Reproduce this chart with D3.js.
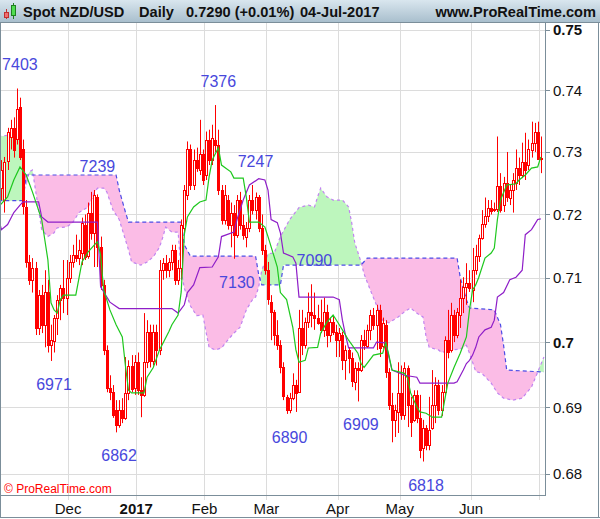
<!DOCTYPE html>
<meta charset="utf-8">
<style>
    body { margin: 0; background: #fff; }
    text { font-family: "Liberation Sans", Arial, sans-serif; }
</style>
<svg id="chart" width="600" height="519"></svg>
<script src="https://d3js.org/d3.v7.min.js"></script>
<script>
    // daily candles, NZD/USD, 1-Nov-2016 .. 4-Jul-2017 (weekdays)
    var open = [
        0.7231,0.7242,0.7223,0.7287,0.7325,0.7339,0.7320,0.7373,0.7304,0.7212,
        0.7125,0.7097,0.7116,0.7022,0.7073,0.7027,0.7078,0.6995,0.7003,0.7038,
        0.7066,0.7084,0.7069,0.7100,0.7125,0.7136,0.7131,0.7140,0.7184,0.7135,
        0.7203,0.7171,0.7228,0.7148,0.7089,0.6988,0.6929,0.6923,0.6896,0.6873,
        0.6896,0.6884,0.6922,0.6964,0.6929,0.6969,0.6926,0.6919,0.6969,0.7016,
        0.6972,0.7016,0.6988,0.7112,0.7123,0.7112,0.7125,0.7144,0.7097,0.7116,
        0.7179,0.7231,0.7304,0.7247,0.7287,0.7271,0.7296,0.7263,0.7320,0.7287,
        0.7320,0.7312,0.7239,0.7192,0.7223,0.7184,0.7203,0.7168,0.7223,0.7184,
        0.7165,0.7179,0.7223,0.7207,0.7228,0.7179,0.7144,0.7112,0.7062,0.7047,
        0.7011,0.6995,0.6961,0.6916,0.6896,0.6914,0.6934,0.6923,0.7022,0.6995,
        0.7031,0.7047,0.7042,0.7038,0.7031,0.7019,0.7047,0.7011,0.7031,0.7016,
        0.7003,0.7011,0.6972,0.6988,0.6975,0.6939,0.6960,0.6957,0.7003,0.6995,
        0.7019,0.7042,0.7027,0.7050,0.6995,0.7027,0.6954,0.6904,0.6881,0.6893,
        0.6922,0.6888,0.6960,0.6904,0.6881,0.6919,0.6884,0.6838,0.6869,0.6843,
        0.6869,0.6904,0.6934,0.6896,0.6923,0.7003,0.6988,0.7042,0.7011,0.7042,
        0.7069,0.7086,0.7092,0.7081,0.7112,0.7134,0.7163,0.7185,0.7198,0.7211,
        0.7207,0.7209,0.7246,0.7215,0.7250,0.7227,0.7239,0.7250,0.7274,0.7263,
        0.7284,0.7279,0.7304,0.7315,0.7333,0.7289];
    var high = [
        0.7250,0.7287,0.7292,0.7339,0.7352,0.7356,0.7403,0.7388,0.7320,0.7223,
        0.7136,0.7131,0.7125,0.7081,0.7089,0.7112,0.7097,0.7027,0.7042,0.7073,
        0.7089,0.7128,0.7128,0.7136,0.7152,0.7168,0.7160,0.7195,0.7200,0.7219,
        0.7236,0.7239,0.7232,0.7165,0.7097,0.6995,0.6949,0.6934,0.6911,0.6911,
        0.6914,0.6977,0.6972,0.6980,0.6980,0.6984,0.6946,0.7045,0.7034,0.7027,
        0.7027,0.7027,0.7128,0.7131,0.7136,0.7131,0.7152,0.7152,0.7128,0.7192,
        0.7247,0.7317,0.7312,0.7304,0.7307,0.7352,0.7304,0.7333,0.7336,0.7344,
        0.7376,0.7336,0.7247,0.7247,0.7231,0.7219,0.7215,0.7231,0.7236,0.7200,
        0.7188,0.7231,0.7247,0.7235,0.7231,0.7200,0.7152,0.7125,0.7073,0.7050,
        0.7034,0.7003,0.6969,0.6919,0.6922,0.6952,0.6942,0.7050,0.7050,0.7038,
        0.7077,0.7090,0.7077,0.7058,0.7066,0.7069,0.7058,0.7038,0.7042,0.7027,
        0.7022,0.7016,0.6995,0.6992,0.6984,0.6969,0.6969,0.7011,0.7019,0.7027,
        0.7050,0.7053,0.7058,0.7058,0.7038,0.7034,0.6960,0.6922,0.6904,0.6969,
        0.6964,0.6969,0.6964,0.6916,0.6926,0.6926,0.6919,0.6881,0.6873,0.6916,
        0.6957,0.6946,0.6942,0.6934,0.7009,0.7050,0.7061,0.7050,0.7053,0.7097,
        0.7101,0.7123,0.7112,0.7147,0.7152,0.7168,0.7207,0.7227,0.7223,0.7223,
        0.7219,0.7325,0.7266,0.7260,0.7300,0.7247,0.7266,0.7304,0.7291,0.7315,
        0.7331,0.7320,0.7349,0.7347,0.7349,0.7325];
    var low = [
        0.7215,0.7223,0.7203,0.7271,0.7304,0.7291,0.7312,0.7287,0.7200,0.7116,
        0.7089,0.7077,0.7011,0.7011,0.7014,0.6992,0.6984,0.6971,0.6984,0.7011,
        0.7034,0.7045,0.7042,0.7092,0.7116,0.7125,0.7120,0.7120,0.7128,0.7130,
        0.7160,0.7117,0.7117,0.7081,0.6980,0.6923,0.6911,0.6884,0.6862,0.6869,
        0.6876,0.6881,0.6911,0.6923,0.6919,0.6919,0.6885,0.6916,0.6960,0.6961,
        0.6964,0.6964,0.6980,0.7097,0.7100,0.7101,0.7112,0.7089,0.7089,0.7097,
        0.7168,0.7223,0.7239,0.7239,0.7268,0.7263,0.7247,0.7255,0.7279,0.7279,
        0.7300,0.7231,0.7184,0.7184,0.7176,0.7148,0.7130,0.7163,0.7176,0.7160,
        0.7148,0.7172,0.7200,0.7192,0.7172,0.7136,0.7105,0.7058,0.7003,0.6995,
        0.6988,0.6952,0.6911,0.6890,0.6891,0.6911,0.6893,0.6922,0.6980,0.6990,
        0.7022,0.7023,0.7019,0.7027,0.7014,0.7008,0.6992,0.7000,0.7011,0.6977,
        0.6977,0.6957,0.6942,0.6952,0.6931,0.6926,0.6909,0.6954,0.6988,0.6991,
        0.7003,0.7019,0.6988,0.6977,0.6990,0.6945,0.6896,0.6847,0.6855,0.6861,
        0.6881,0.6881,0.6870,0.6855,0.6878,0.6876,0.6823,0.6818,0.6835,0.6835,
        0.6866,0.6876,0.6888,0.6887,0.6919,0.6975,0.6984,0.7000,0.7006,0.7022,
        0.7045,0.7058,0.7078,0.7062,0.7105,0.7125,0.7160,0.7179,0.7188,0.7200,
        0.7204,0.7204,0.7203,0.7204,0.7220,0.7215,0.7203,0.7239,0.7247,0.7258,
        0.7255,0.7271,0.7291,0.7300,0.7287,0.7266];
    var close = [
        0.7242,0.7271,0.7284,0.7333,0.7339,0.7304,0.7369,0.7292,0.7212,0.7125,
        0.7097,0.7116,0.7022,0.7073,0.7027,0.7078,0.6995,0.7003,0.7038,0.7066,
        0.7084,0.7069,0.7100,0.7125,0.7136,0.7131,0.7144,0.7187,0.7133,0.7203,
        0.7171,0.7231,0.7148,0.7089,0.6988,0.6929,0.6923,0.6888,0.6873,0.6896,
        0.6884,0.6922,0.6964,0.6929,0.6969,0.6926,0.6919,0.6969,0.7016,0.6972,
        0.7016,0.6988,0.7112,0.7123,0.7112,0.7125,0.7144,0.7097,0.7116,0.7184,
        0.7239,0.7304,0.7247,0.7287,0.7274,0.7296,0.7255,0.7320,0.7287,0.7323,
        0.7312,0.7239,0.7192,0.7231,0.7184,0.7203,0.7168,0.7223,0.7184,0.7168,
        0.7179,0.7223,0.7207,0.7228,0.7179,0.7144,0.7112,0.7066,0.7047,0.7011,
        0.6995,0.6961,0.6916,0.6896,0.6914,0.6934,0.6922,0.7022,0.6995,0.7031,
        0.7047,0.7042,0.7038,0.7031,0.7019,0.7047,0.7011,0.7031,0.7016,0.7003,
        0.7014,0.6972,0.6988,0.6975,0.6939,0.6960,0.6957,0.7003,0.6995,0.7019,
        0.7042,0.7027,0.7050,0.6991,0.7030,0.6954,0.6904,0.6881,0.6896,0.6922,
        0.6888,0.6960,0.6904,0.6878,0.6919,0.6884,0.6835,0.6869,0.6843,0.6866,
        0.6904,0.6934,0.6896,0.6923,0.7003,0.6984,0.7042,0.7011,0.7047,0.7069,
        0.7086,0.7092,0.7084,0.7112,0.7134,0.7163,0.7185,0.7198,0.7211,0.7207,
        0.7209,0.7246,0.7207,0.7250,0.7227,0.7239,0.7255,0.7274,0.7263,0.7284,
        0.7271,0.7304,0.7315,0.7333,0.7289,0.7290];

    // Ichimoku lines: [day index, price]
    var tenkan = [[0,0.7212],[3,0.7228],[5,0.7255],[7,0.7276],[9,0.7263],[11,0.7236],[14,0.7192],[15,0.7160],
        [16,0.7128],[17,0.7061],[18,0.7050],[19,0.7045],[20,0.7066],[21,0.7073],[25,0.7073],[27,0.7125],
        [29,0.7141],[31,0.7152],[32,0.7157],[33,0.7136],[34,0.7081],[36,0.7050],[38,0.7027],[40,0.7008],
        [41,0.6964],[42,0.6926],[43,0.6922],[47,0.6922],[48,0.6946],[50,0.6961],[52,0.6988],[55,0.7016],
        [56,0.7027],[58,0.7042],[59,0.7078],[60,0.7168],[61,0.7196],[63,0.7212],[65,0.7220],[67,0.7223],
        [68,0.7260],[69,0.7287],[71,0.7307],[72,0.7279],[75,0.7268],[76,0.7258],[79,0.7258],[80,0.7228],
        [81,0.7188],[84,0.7188],[86,0.7180],[87,0.7165],[90,0.7117],[91,0.7077],[93,0.7066],[95,0.7023],
        [96,0.6988],[97,0.6969],[99,0.6972],[100,0.6991],[103,0.6992],[104,0.7014],[106,0.7031],[108,0.7042],
        [110,0.7027],[111,0.7019],[113,0.7003],[116,0.6983],[117,0.6967],[118,0.6961],[121,0.6980],[124,0.6983],
        [125,0.6999],[126,0.6980],[127,0.6957],[131,0.6952],[132,0.6945],[133,0.6922],[135,0.6901],[136,0.6893],
        [138,0.6891],[140,0.6885],[143,0.6885],[144,0.6911],[145,0.6937],[147,0.6961],[149,0.6983],[151,0.7008],
        [152,0.7050],[153,0.7081],[154,0.7089],[155,0.7101],[157,0.7131],[159,0.7139],[160,0.7147],[161,0.7192],
        [162,0.7223],[164,0.7247],[167,0.7249],[168,0.7255],[170,0.7263],[172,0.7274],[174,0.7276],[175,0.7292]];
    var kijun = [[0,0.7196],[1,0.7176],[3,0.7184],[5,0.7203],[7,0.7215],[8,0.7220],[13,0.7220],[14,0.7196],
        [16,0.7188],[32,0.7188],[33,0.7086],[36,0.7062],[39,0.7052],[56,0.7052],[58,0.7045],[60,0.7058],
        [61,0.7077],[63,0.7089],[65,0.7116],[69,0.7117],[71,0.7133],[72,0.7165],[76,0.7172],[77,0.7192],
        [79,0.7223],[81,0.7247],[84,0.7257],[86,0.7255],[87,0.7239],[88,0.7192],[90,0.7187],[91,0.7171],
        [92,0.7139],[95,0.7133],[96,0.7123],[97,0.7070],[108,0.7070],[110,0.7066],[111,0.7034],[112,0.7011],
        [113,0.6991],[121,0.6991],[122,0.7000],[125,0.6999],[126,0.6977],[127,0.6957],[131,0.6949],[135,0.6946],
        [136,0.6937],[147,0.6937],[148,0.6939],[150,0.6957],[151,0.6967],[152,0.6972],[153,0.6980],[154,0.6992],
        [155,0.7008],[157,0.7019],[159,0.7023],[160,0.7034],[161,0.7070],[163,0.7077],[165,0.7097],[167,0.7101],
        [169,0.7112],[170,0.7168],[172,0.7176],[173,0.7184],[174,0.7192],[175,0.7193]];
    var spanA = [[0,0.7325],[5,0.7328],[7,0.7320],[8,0.7287],[9,0.7247],[10,0.7268],[11,0.7271],[12,0.7239],
        [13,0.7207],[14,0.7176],[16,0.7165],[18,0.7171],[19,0.7179],[22,0.7180],[24,0.7187],[26,0.7203],
        [29,0.7212],[31,0.7235],[32,0.7242],[34,0.7242],[35,0.7236],[37,0.7207],[39,0.7192],[40,0.7176],
        [42,0.7144],[43,0.7125],[46,0.7120],[48,0.7125],[50,0.7133],[52,0.7148],[53,0.7163],[54,0.7180],
        [56,0.7172],[58,0.7172],[59,0.7111],[60,0.7084],[61,0.7070],[62,0.7056],[64,0.7041],[66,0.7042],
        [67,0.7016],[68,0.6992],[70,0.6988],[72,0.6991],[74,0.7003],[76,0.7014],[78,0.7023],[80,0.7050],
        [82,0.7066],[83,0.7070],[84,0.7086],[85,0.7112],[87,0.7138],[89,0.7139],[91,0.7165],[94,0.7192],
        [97,0.7211],[100,0.7215],[102,0.7212],[103,0.7228],[104,0.7242],[106,0.7228],[108,0.7223],[111,0.7223],
        [113,0.7212],[114,0.7187],[115,0.7155],[117,0.7125],[118,0.7106],[120,0.7081],[124,0.7034],[126,0.7030],
        [129,0.7039],[131,0.7047],[133,0.7053],[135,0.7045],[137,0.7039],[138,0.7008],[139,0.6992],[142,0.6988],
        [143,0.6984],[146,0.6988],[149,0.6989],[151,0.6995],[152,0.6983],[154,0.6955],[156,0.6952],[159,0.6937],
        [161,0.6922],[163,0.6914],[166,0.6911],[169,0.6914],[172,0.6931],[174,0.6954],[176,0.6977]];
    var spanB = [[0,0.7222],[8,0.7222],[9,0.7263],[38,0.7263],[39,0.7239],[41,0.7204],[42,0.7188],[59,0.7188],
        [60,0.7152],[62,0.7134],[83,0.7134],[84,0.7105],[85,0.7089],[91,0.7089],[92,0.7120],[117,0.7120],
        [119,0.7131],[148,0.7131],[149,0.7101],[151,0.7066],[152,0.7053],[160,0.7050],[162,0.7027],[163,0.6995],
        [164,0.6957],[176,0.6954]];

    // swing labels: [day index, price, +1 high / -1 low]
    var pivots = [[6,0.7403,1],[31,0.7239,1],[70,0.7376,1],[82,0.7247,1],[101,0.7090,1],
        [17,0.6971,-1],[38,0.6862,-1],[76,0.7130,-1],[93,0.6890,-1],[116,0.6909,-1],[137,0.6818,-1]];

    var yTicks = [0.68, 0.69, 0.70, 0.71, 0.72, 0.73, 0.74, 0.75];
    var boldTicks = [0.70, 0.75];

    var plot = {left: 1, top: 23, right: 545, bottom: 495};
    var svg = d3.select("#chart");

    // weekday dates from 1-Nov-2016
    var dates = [];
    var day = new Date(2016, 10, 1);
    while (dates.length < close.length) {
        if (day.getDay() != 0 && day.getDay() != 6) dates.push(new Date(day));
        day.setDate(day.getDate() + 1);
    }

    var x = d3.scaleLinear().domain([0, close.length - 1]).range([-1.7, 540.8]);
    var y = d3.scaleLog().domain([0.68, 0.75]).range([473.5, 29.5]);

    var defs = svg.append("defs");
    var grad = defs.append("linearGradient").attr("id", "hdr").attr("x1", 0).attr("y1", 0).attr("x2", 0).attr("y2", 1);
    grad.append("stop").attr("offset", "0%").attr("stop-color", "#d9e6ee");
    grad.append("stop").attr("offset", "100%").attr("stop-color", "#a9bfcd");

    defs.append("clipPath").attr("id", "plotClip").append("rect")
        .attr("x", plot.left).attr("y", plot.top)
        .attr("width", plot.right - plot.left).attr("height", plot.bottom - plot.top);

    // cloud clip regions
    defs.append("clipPath").attr("id", "aboveB").append("path")
        .attr("d", d3.area().x(function (d) { return x(d[0]); }).y0(0).y1(function (d) { return y(d[1]); })(spanB));
    defs.append("clipPath").attr("id", "aboveA").append("path")
        .attr("d", d3.area().x(function (d) { return x(d[0]); }).y0(0).y1(function (d) { return y(d[1]); })(spanA));

    // gridlines
    var monthStarts = [];
    for (var i = 1; i < dates.length; i++) {
        if (dates[i].getMonth() != dates[i - 1].getMonth()) monthStarts.push(i);
    }

    var grid = svg.append("g").attr("stroke", "#dcdcdc").attr("stroke-width", 1);
    grid.selectAll(".h").data(yTicks).enter().append("line")
        .attr("x1", plot.left).attr("x2", plot.right)
        .attr("y1", function (d) { return Math.round(y(d)) + 0.5; })
        .attr("y2", function (d) { return Math.round(y(d)) + 0.5; });
    grid.selectAll(".v").data(monthStarts).enter().append("line")
        .attr("x1", function (d) { return Math.round(x(d + 0.5)) + 0.5; })
        .attr("x2", function (d) { return Math.round(x(d + 0.5)) + 0.5; })
        .attr("y1", plot.top).attr("y2", plot.bottom + 5);

    var g = svg.append("g").attr("clip-path", "url(#plotClip)");

    // kumo
    var areaDown = d3.area().x(function (d) { return x(d[0]); }).y0(plot.bottom + 50).y1(function (d) { return y(d[1]); });
    g.append("path").attr("d", areaDown(spanA)).attr("fill", "#bdf6bd").attr("clip-path", "url(#aboveB)");
    g.append("path").attr("d", areaDown(spanB)).attr("fill", "#fbbce6").attr("clip-path", "url(#aboveA)");

    var line = d3.line().x(function (d) { return x(d[0]); }).y(function (d) { return y(d[1]); });
    g.append("path").attr("d", line(spanA)).attr("fill", "none")
        .attr("stroke", "#c184f0").attr("stroke-width", 1.2).attr("stroke-dasharray", "3,3");
    g.append("path").attr("d", line(spanB)).attr("fill", "none")
        .attr("stroke", "#4c4ce6").attr("stroke-width", 1.2).attr("stroke-dasharray", "4,3");

    // candles
    var candles = d3.range(close.length).map(function (i) {
        return {i: i, o: open[i], h: high[i], l: low[i], c: close[i]};
    });
    var cg = g.append("g");
    cg.selectAll("line").data(candles).enter().append("line")
        .attr("x1", function (d) { return Math.round(x(d.i)) + 0.5; })
        .attr("x2", function (d) { return Math.round(x(d.i)) + 0.5; })
        .attr("y1", function (d) { return y(d.h); })
        .attr("y2", function (d) { return y(d.l); })
        .attr("stroke", "#ff0000");
    cg.selectAll("rect").data(candles).enter().append("rect")
        .attr("x", function (d) { return Math.round(x(d.i)) - 0.5; })
        .attr("y", function (d) { return Math.round(y(Math.max(d.o, d.c))) + 0.5; })
        .attr("width", 2)
        .attr("height", function (d) { return Math.max(1, Math.round(Math.abs(y(d.o) - y(d.c)))); })
        .attr("fill", function (d) { return d.c > d.o ? "#ffffff" : "#ff0000"; })
        .attr("stroke", "#ff0000");

    g.append("path").attr("d", line(kijun)).attr("fill", "none").attr("stroke", "#8e1ec8").attr("stroke-width", 1.2);
    g.append("path").attr("d", line(tenkan)).attr("fill", "none").attr("stroke", "#1ec81e").attr("stroke-width", 1.2);

    // swing labels
    svg.append("g").selectAll("text").data(pivots).enter().append("text")
        .attr("x", function (d) { return x(d[0]) + 3; })
        .attr("y", function (d) { return d[2] > 0 ? y(d[1]) - 18 : y(d[1]) + 29; })
        .attr("text-anchor", "middle")
        .attr("font-size", 16)
        .attr("fill", "#4848dc")
        .text(function (d) { return Math.round(d[1] * 10000); });

    // frames
    var frame = svg.append("g").attr("stroke", "#7b8e9a").attr("fill", "none");
    frame.append("line").attr("x1", 0.5).attr("x2", 0.5).attr("y1", 22).attr("y2", 518);
    frame.append("line").attr("x1", plot.right + 0.5).attr("x2", plot.right + 0.5).attr("y1", 22).attr("y2", plot.bottom + 0.5);
    frame.append("line").attr("x1", 0).attr("x2", plot.right + 1).attr("y1", plot.bottom + 0.5).attr("y2", plot.bottom + 0.5);
    frame.append("line").attr("x1", 0).attr("x2", 600).attr("y1", 517.5).attr("y2", 517.5);
    frame.append("line").attr("x1", 598.5).attr("x2", 598.5).attr("y1", 0).attr("y2", 518);

    // y axis
    var yAxis = svg.append("g");
    yAxis.selectAll("line").data(yTicks).enter().append("line")
        .attr("x1", plot.right).attr("x2", plot.right + 5)
        .attr("y1", function (d) { return Math.round(y(d)) + 0.5; })
        .attr("y2", function (d) { return Math.round(y(d)) + 0.5; })
        .attr("stroke", "#7b8e9a");
    yAxis.selectAll("text").data(yTicks).enter().append("text")
        .attr("x", plot.right + 8)
        .attr("y", function (d) { return y(d) + 5.5; })
        .attr("font-size", 15)
        .attr("font-weight", function (d) { return boldTicks.indexOf(d) >= 0 ? "bold" : "normal"; })
        .attr("fill", "#111")
        .text(function (d) { return boldTicks.indexOf(d) >= 0 ? d3.format("")(d) : d3.format(".2f")(d); });

    // x axis
    var monthFmt = d3.timeFormat("%b");
    svg.append("g").selectAll("text")
        .data(monthStarts.filter(function (i) { return x(i + 0.5) < plot.right - 20; }))
        .enter().append("text")
        .attr("x", function (i) { return x(i + 0.5); })
        .attr("y", 514)
        .attr("text-anchor", "middle")
        .attr("font-size", 15)
        .attr("font-weight", function (i) { return dates[i].getMonth() == 0 ? "bold" : "normal"; })
        .attr("fill", "#111")
        .text(function (i) { return dates[i].getMonth() == 0 ? dates[i].getFullYear() : monthFmt(dates[i]); });

    svg.append("text").attr("x", 4).attr("y", 493).attr("font-size", 12).attr("fill", "#ff0000")
        .text("\u00a9 ProRealTime.com");

    // header bar
    svg.append("rect").attr("x", 0).attr("y", 0).attr("width", 600).attr("height", 22).attr("fill", "url(#hdr)");
    svg.append("line").attr("x1", 0).attr("x2", 600).attr("y1", 22.5).attr("y2", 22.5).attr("stroke", "#7b8e9a");
    var icon = svg.append("g");
    icon.append("line").attr("x1", 6.5).attr("x2", 6.5).attr("y1", 9).attr("y2", 19).attr("stroke", "#c03030");
    icon.append("rect").attr("x", 4.5).attr("y", 12.5).attr("width", 4).attr("height", 5).attr("fill", "#f07070").attr("stroke", "#c03030");
    icon.append("line").attr("x1", 13.5).attr("x2", 13.5).attr("y1", 3).attr("y2", 19).attr("stroke", "#208020");
    icon.append("rect").attr("x", 11.5).attr("y", 5.5).attr("width", 4).attr("height", 10).attr("fill", "#50dd50").attr("stroke", "#208020");

    var last = close.length - 1;
    var chg = (close[last] - close[last - 1]) / close[last - 1] * 100;
    var hdr = svg.append("g").attr("font-size", 14.6).attr("font-weight", "bold").attr("fill", "#111");
    hdr.append("text").attr("x", 23).attr("y", 17).text("Spot NZD/USD");
    hdr.append("text").attr("x", 139).attr("y", 17).text("Daily");
    hdr.append("text").attr("x", 186).attr("y", 17)
        .text(close[last].toFixed(4) + " (" + (chg >= 0 ? "+" : "") + chg.toFixed(2) + "%)");
    hdr.append("text").attr("x", 300).attr("y", 17).text(d3.timeFormat("%d-%b-%Y")(dates[last]));
    hdr.append("text").attr("x", 596).attr("y", 17).attr("text-anchor", "end").text("www.ProRealTime.com");
</script>
